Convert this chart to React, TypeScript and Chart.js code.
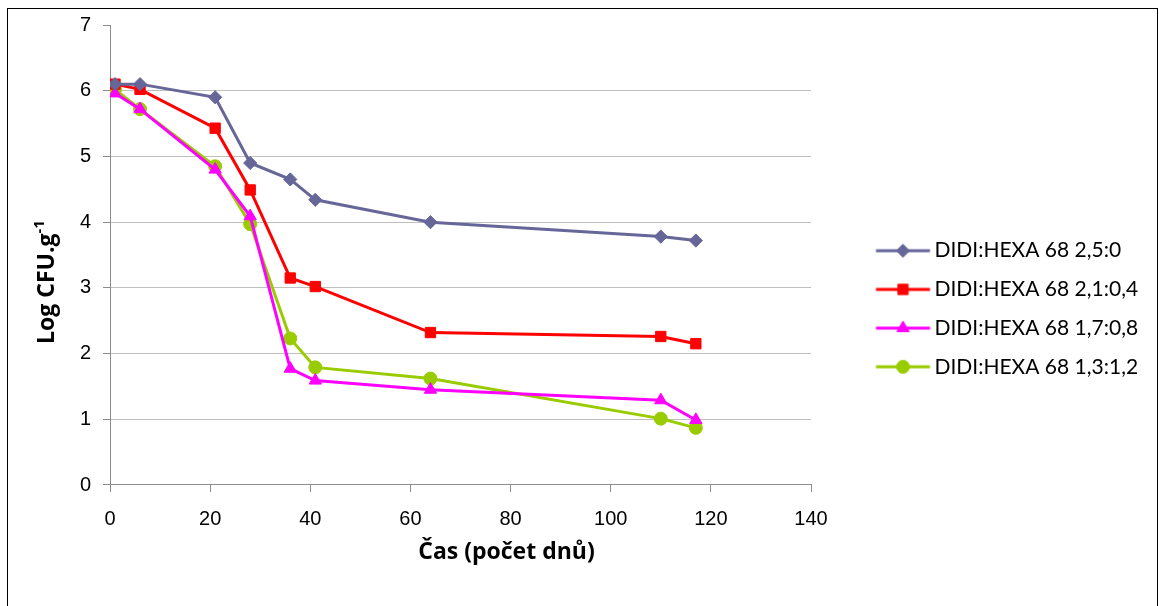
import React, { useEffect, useRef } from 'react';
import { Chart, registerables } from 'chart.js';

Chart.register(...registerables);

// ---- data ----
const days = [1, 6, 21, 28, 36, 41, 64, 110, 117];
const seriesNames = [
  'DIDI:HEXA 68 2,5:0',
  'DIDI:HEXA 68 2,1:0,4',
  'DIDI:HEXA 68 1,7:0,8',
  'DIDI:HEXA 68 1,3:1,2',
];
const ratio25_0 = [6.10, 6.10, 5.90, 4.90, 4.65, 4.34, 4.00, 3.78, 3.72];
const ratio21_04 = [6.10, 6.02, 5.43, 4.49, 3.15, 3.02, 2.32, 2.26, 2.15];
const ratio17_08 = [5.96, 5.72, 4.80, 4.09, 1.77, 1.59, 1.45, 1.29, 0.99];
const ratio13_12 = [6.02, 5.72, 4.85, 3.97, 2.23, 1.79, 1.62, 1.01, 0.87];
const seriesValues = [ratio25_0, ratio21_04, ratio17_08, ratio13_12];
const xAxisMin = 0;
const xAxisMax = 140;
const xAxisStep = 20;
const yAxisMin = 0;
const yAxisMax = 7;
const yAxisStep = 1;
const xTitle = 'Čas (počet dnů)';
const yTitle = 'Log CFU.g';
const yTitleSup = '-1';

// ---- styles ----
const colors = ['#666699', '#ff0000', '#ff00ff', '#99cc00'];
const pointStyles = ['rectRot', 'rect', 'triangle', 'circle'];
const pointRadii = [6.6, 7.3, 7.1, 6.5];

const CANVAS_W = 1149;
const CANVAS_H = 598;
const AREA_LEFT = 102;
const AREA_RIGHT = 803;
const AREA_TOP = 16;
const AREA_BOTTOM = 476;

const LEG_FS = 21;
const LEG_SPACING = 38.7;
const LEG_PAD = LEG_SPACING - LEG_FS;
const LEG_TEXT_X = 926.5;
const LEG_LINE_X = 868;
const LEG_LINE_LEN = 54;
const LEG_FIRST_CY = 241.7;
const LEG_BOX_W = LEG_TEXT_X - (AREA_RIGHT + LEG_PAD) - LEG_FS / 2;
const LEG_FONT = `${LEG_FS}px Lato`;
const TICK_FONT = { family: 'Liberation Sans', size: 20 };
const TITLE_FAMILY = '"Open Sans"';

function drawMarker(ctx: CanvasRenderingContext2D, style: string, x: number, y: number, r: number) {
  ctx.beginPath();
  if (style === 'circle') {
    ctx.arc(x, y, r, 0, Math.PI * 2);
  } else if (style === 'rect') {
    const s = Math.SQRT1_2 * r;
    ctx.rect(x - s, y - s, 2 * s, 2 * s);
  } else if (style === 'rectRot') {
    ctx.moveTo(x, y - r);
    ctx.lineTo(x + r, y);
    ctx.lineTo(x, y + r);
    ctx.lineTo(x - r, y);
    ctx.closePath();
  } else if (style === 'triangle') {
    ctx.moveTo(x, y - r);
    ctx.lineTo(x + r * Math.sin(Math.PI / 3), y + r * 0.5);
    ctx.lineTo(x - r * Math.sin(Math.PI / 3), y + r * 0.5);
    ctx.closePath();
  }
  ctx.fill();
  ctx.stroke();
}

function makeLegendImage(i: number): HTMLCanvasElement {
  const itemLeft = AREA_RIGHT + LEG_PAD;
  const center = itemLeft + LEG_BOX_W / 2;
  const half = Math.ceil(Math.max(center - LEG_LINE_X, LEG_LINE_X + LEG_LINE_LEN - center) + 10);
  const c = document.createElement('canvas');
  c.width = half * 2;
  c.height = 20;
  const ctx = c.getContext('2d')!;
  const x0 = LEG_LINE_X - center + half;
  ctx.strokeStyle = colors[i];
  ctx.lineWidth = 3;
  ctx.beginPath();
  ctx.moveTo(x0, 10);
  ctx.lineTo(x0 + LEG_LINE_LEN, 10);
  ctx.stroke();
  ctx.fillStyle = colors[i];
  ctx.lineWidth = 1;
  drawMarker(ctx, pointStyles[i], x0 + LEG_LINE_LEN / 2, 10, pointRadii[i]);
  return c;
}

const axisTitlePlugin = {
  id: 'axisTitles',
  afterDraw(chart: any) {
    const { ctx, chartArea } = chart;
    ctx.save();
    ctx.fillStyle = '#000';
    // x title
    ctx.font = `bold 23px ${TITLE_FAMILY}`;
    ctx.textAlign = 'center';
    ctx.textBaseline = 'middle';
    ctx.fillText(xTitle, (chartArea.left + chartArea.right) / 2 + 46, chartArea.bottom + 67);
    // y title with superscript
    const mainFont = `bold 23px ${TITLE_FAMILY}`;
    const supFont = `bold 15px ${TITLE_FAMILY}`;
    ctx.font = mainFont;
    const w1 = ctx.measureText(yTitle).width;
    ctx.font = supFont;
    const w2 = ctx.measureText(yTitleSup).width;
    const total = w1 + w2;
    const cy = (chartArea.top + chartArea.bottom) / 2 + 27;
    ctx.translate(46, cy);
    ctx.rotate(-Math.PI / 2);
    ctx.textAlign = 'left';
    ctx.textBaseline = 'alphabetic';
    ctx.font = mainFont;
    ctx.fillText(yTitle, -total / 2, 0);
    ctx.font = supFont;
    ctx.fillText(yTitleSup, -total / 2 + w1, -10);
    ctx.restore();
  },
};

export default function App() {
  const ref = useRef<HTMLCanvasElement | null>(null);

  useEffect(() => {
    if (!ref.current) return;
    const legendImages = seriesNames.map((_, i) => makeLegendImage(i));

    const mctx = document.createElement('canvas').getContext('2d')!;
    mctx.font = LEG_FONT;
    const maxText = Math.max(...seriesNames.map((n) => mctx.measureText(n).width));
    const legendNatural = LEG_PAD + LEG_BOX_W + LEG_FS / 2 + maxText + 10;
    const legendTarget = CANVAS_W - AREA_RIGHT;
    const padRight = Math.max(0, legendTarget - legendNatural);
    const colHeight = seriesNames.length * (LEG_FS + LEG_PAD);
    const padBottom = AREA_TOP + LEG_PAD + CANVAS_H - colHeight - 2 * (LEG_FIRST_CY - LEG_FS / 2);

    const chart = new Chart(ref.current, {
      type: 'line',
      data: {
        datasets: seriesNames.map((name, i) => ({
          label: name,
          data: days.map((d, j) => ({ x: d, y: seriesValues[i][j] })),
          borderColor: colors[i],
          backgroundColor: colors[i],
          borderWidth: 3,
          pointStyle: pointStyles[i] as any,
          pointRadius: pointRadii[i],
          pointHoverRadius: pointRadii[i],
          pointBorderWidth: 1,
          pointBackgroundColor: colors[i],
          pointBorderColor: colors[i],
          tension: 0,
          fill: false,
        })),
      },
      options: {
        responsive: false,
        animation: false,
        devicePixelRatio: 1,
        layout: {
          padding: { left: 0, top: AREA_TOP, right: padRight, bottom: padBottom },
        },
        plugins: {
          tooltip: { enabled: false },
          legend: {
            position: 'right',
            maxWidth: legendTarget,
            labels: {
              usePointStyle: true,
              pointStyleWidth: LEG_BOX_W,
              padding: LEG_PAD,
              color: '#000',
              font: { family: 'Lato', size: LEG_FS },
              generateLabels: (ch: any) =>
                Chart.defaults.plugins.legend.labels
                  .generateLabels(ch)
                  .map((l: any, i: number) => ({ ...l, pointStyle: legendImages[i] })),
            },
          },
        },
        scales: {
          x: {
            type: 'linear',
            min: xAxisMin,
            max: xAxisMax,
            ticks: {
              stepSize: xAxisStep,
              color: '#000',
              padding: 15,
              maxRotation: 0,
              font: TICK_FONT,
            },
            grid: {
              drawOnChartArea: false,
              drawTicks: true,
              tickLength: 7,
              tickColor: '#8c8c8c',
              color: '#8c8c8c',
            },
            border: { display: true, color: '#8c8c8c', width: 1 },
            afterFit: (scale: any) => {
              scale.height = CANVAS_H - padBottom - AREA_BOTTOM;
            },
          },
          y: {
            type: 'linear',
            min: yAxisMin,
            max: yAxisMax,
            ticks: {
              stepSize: yAxisStep,
              color: '#000',
              padding: 12,
              font: TICK_FONT,
            },
            grid: {
              drawTicks: true,
              tickLength: 7,
              tickColor: '#8c8c8c',
              color: (c: any) => (c.tick && c.tick.value === yAxisMax ? 'rgba(0,0,0,0)' : '#bfbfbf'),
            },
            border: { display: true, color: '#8c8c8c', width: 1 },
            afterFit: (scale: any) => {
              scale.width = AREA_LEFT;
              scale.paddingTop = 0;
              scale.paddingBottom = 0;
            },
          },
        },
      },
      plugins: [axisTitlePlugin],
    });
    return () => chart.destroy();
  }, []);

  return (
    <div
      style={{
        position: 'absolute',
        left: 7,
        top: 8,
        width: CANVAS_W + 2,
        height: CANVAS_H + 2,
        border: '1px solid #000',
        boxSizing: 'border-box',
        background: '#fff',
      }}
    >
      <canvas ref={ref} width={CANVAS_W} height={CANVAS_H} style={{ display: 'block', width: CANVAS_W, height: CANVAS_H }} />
    </div>
  );
}
